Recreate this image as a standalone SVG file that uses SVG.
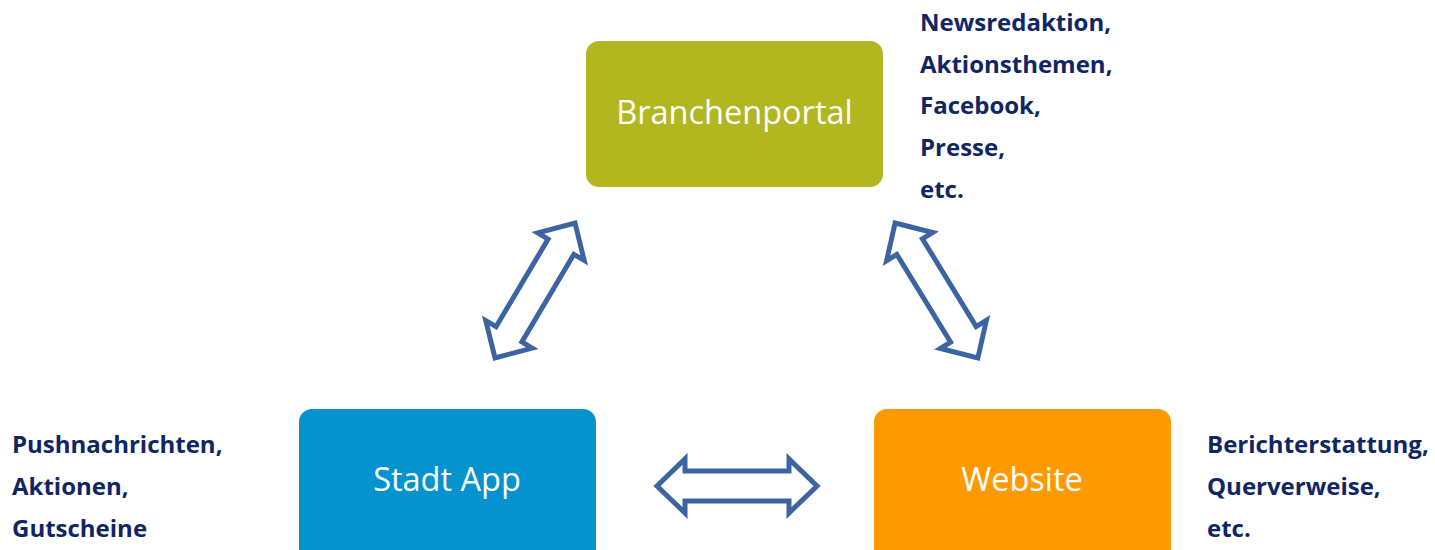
<svg xmlns="http://www.w3.org/2000/svg" width="1435" height="550" viewBox="0 0 1435 550">
  <style>
    .box-label { font-family: "Open Sans", "Liberation Sans", sans-serif; font-size: 32.5px; fill: #ffffff; text-anchor: middle; }
    .note { font-family: "Open Sans", "Liberation Sans", sans-serif; font-size: 24px; font-weight: bold; fill: #0f2564; }
    .arrow { fill: #ffffff; stroke: #3b64a0; stroke-width: 5; stroke-linejoin: miter; }
  </style>
  <defs>
    <polygon id="dblarrow" points="-80,0 -52,-27 -52,-15 52,-15 52,-27 80,0 52,27 52,15 -52,15 -52,27"/>
  </defs>
  <rect width="1435" height="550" fill="#ffffff"/>

  <g id="connectors">
    <use href="#dblarrow" class="arrow" transform="translate(535,290.5) rotate(-59.3) scale(0.98,1)"/>
    <use href="#dblarrow" class="arrow" transform="translate(936.5,290.5) rotate(58.5) scale(0.99,1)"/>
    <use href="#dblarrow" class="arrow" transform="translate(737,486)"/>
  </g>

  <g id="branchenportal">
    <rect x="586" y="41" width="297" height="146" rx="13" fill="#b2b720"/>
    <text class="box-label" x="734.5" y="124">Branchenportal</text>
  </g>

  <g id="stadtapp">
    <rect x="299" y="409" width="297" height="160" rx="13" fill="#0593d0"/>
    <text class="box-label" x="447" y="491">Stadt App</text>
  </g>

  <g id="website">
    <rect x="874" y="409" width="297" height="160" rx="13" fill="#ff9900"/>
    <text class="box-label" x="1022" y="491">Website</text>
  </g>

  <g id="note-branchenportal">
    <text class="note" x="920" y="31">Newsredaktion,</text>
    <text class="note" x="920" y="73">Aktionsthemen,</text>
    <text class="note" x="920" y="114">Facebook,</text>
    <text class="note" x="920" y="156">Presse,</text>
    <text class="note" x="920" y="198">etc.</text>
  </g>

  <g id="note-stadtapp">
    <text class="note" x="12" y="453">Pushnachrichten,</text>
    <text class="note" x="12" y="495">Aktionen,</text>
    <text class="note" x="12" y="537">Gutscheine</text>
  </g>

  <g id="note-website">
    <text class="note" x="1207" y="453">Berichterstattung,</text>
    <text class="note" x="1207" y="495">Querverweise,</text>
    <text class="note" x="1207" y="537">etc.</text>
  </g>
</svg>
